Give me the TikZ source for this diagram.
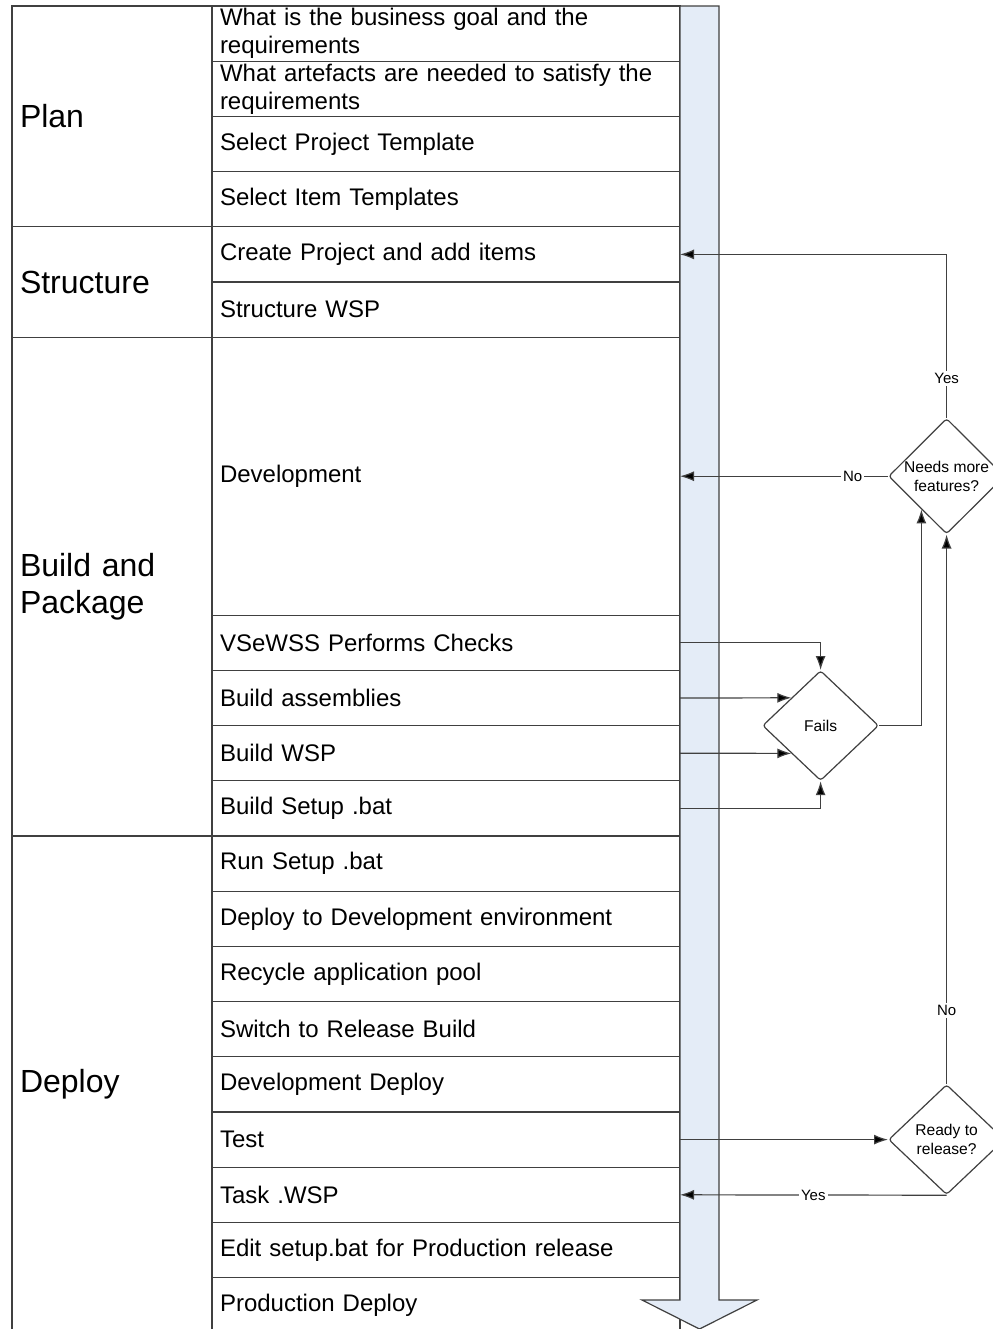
\documentclass[tikz,border=0pt]{standalone}
\usepackage{fontspec}
\setmainfont{Liberation Sans}
\usetikzlibrary{positioning,arrows.meta,calc}
\usetikzlibrary{shapes.geometric}
\definecolor{barblue}{HTML}{E4ECF7}
\definecolor{linegray}{HTML}{404040}
\tikzset{
steprow/.style={
  rectangle, draw=linegray, line width=0.6pt,
  minimum width=234pt, minimum height=27.6pt,
  text width=226pt, inner xsep=4pt, inner ysep=0.5pt,
  outer sep=0pt, align=left,
  font=\fontsize{12}{14}\selectfont
  },
phasebox/.style={
  rectangle, draw=linegray, line width=0.6pt, anchor=north east,
  minimum width=100pt, text width=92pt, inner xsep=4pt,
  outer sep=0pt, align=left,
  font=\fontsize{16}{18.5}\selectfont
  },
decision/.style={
  diamond, draw=linegray, fill=white, line width=0.6pt,
  minimum width=58pt, minimum height=55pt, inner sep=0pt,
  rounded corners=1.5pt, align=center,
  font=\fontsize{7.8}{9.5}\selectfont
  },
flow/.style={->, draw=linegray, line width=0.6pt},
flowlabel/.style={fill=white, inner sep=1pt, font=\fontsize{7.5}{9}\selectfont}
}

\begin{document}
\begin{tikzpicture}[x=0.5pt, y=-0.5pt, >={Latex[length=7pt,width=5pt,fill=black]}]
\useasboundingbox (0,0) rectangle (992,1329);

% steps
\node[steprow, anchor=north west] at (212,6) (st1)
  {What is the business goal and the\\requirements};
\node[steprow, below=0pt of st1] (st2)
  {What artefacts are needed to satisfy the\\requirements};
\node[steprow, below=0pt of st2] (st3) {Select Project Template};
\node[steprow, below=0pt of st3] (st4) {Select Item Templates};
\node[steprow, below=0pt of st4] (st5) {Create Project and add items};
\node[steprow, below=0pt of st5] (st6) {Structure WSP};
\node[steprow, below=0pt of st6, minimum height=139pt] (st7) {Development};
\node[steprow, below=0pt of st7] (st8) {VSeWSS Performs Checks};
\node[steprow, below=0pt of st8] (st9) {Build assemblies};
\node[steprow, below=0pt of st9] (st10) {Build WSP};
\node[steprow, below=0pt of st10] (st11) {Build Setup .bat};
\node[steprow, below=0pt of st11] (st12) {Run Setup .bat};
\node[steprow, below=0pt of st12] (st13) {Deploy to Development environment};
\node[steprow, below=0pt of st13] (st14) {Recycle application pool};
\node[steprow, below=0pt of st14] (st15) {Switch to Release Build};
\node[steprow, below=0pt of st15] (st16) {Development Deploy};
\node[steprow, below=0pt of st16] (st17) {Test};
\node[steprow, below=0pt of st17] (st18) {Task .WSP};
\node[steprow, below=0pt of st18] (st19) {Edit setup.bat for Production release};
\node[steprow, below=0pt of st19] (st20) {Production Deploy};

% phases
\node[phasebox, minimum height=110.4pt] at (st1.north west) (plan) {Plan};
\node[phasebox, minimum height=55.2pt] at (st5.north west) (struct) {Structure};
\node[phasebox, minimum height=249.4pt] at (st7.north west) (build)
  {Build and\\Package};
\node[phasebox, minimum height=248.4pt] at (st12.north west) (deploy) {Deploy};

% flow bar
\draw[draw=linegray, line width=0.6pt, fill=barblue]
  (680,6) -- (719,6) -- (719,1300) -- (757,1300) -- (699.5,1329)
  -- (642,1300) -- (680,1300) -- cycle;

% decisions
\node[decision, right=104pt of st7] (needs) {Needs more\\features?};
\node[decision, right=41pt of st9.south east] (fails) {Fails};
\node[decision, right=104pt of st17] (ready) {Ready to\\release?};

\coordinate (needsin) at ($(needs.west)!0.57!(needs.south)$);

% checks into fails
\draw[flow] (st8.east) -| (fails.north);
\draw[flow] (st9.east) -- ($(fails.west)!0.5!(fails.north)$);
\draw[flow] (st10.east) -- ($(fails.west)!0.5!(fails.south)$);
\draw[flow] (st11.east) -| (fails.south);
\draw[flow] (fails.east) -| (needsin);

% loops back
\draw[flow] (needs.north) |- node[flowlabel, pos=0.12]{Yes} (st5.east);
\draw[flow] (needs.west) -- node[flowlabel, pos=0.17]{No} (st7.east);
\draw[flow] (st17.east) -- (ready.west);
\draw[flow] (ready.north) -- node[flowlabel, pos=0.134]{No} (needs.south);
\draw[flow] (ready.south) -- node[flowlabel, pos=0.5]{Yes} (st18.east);

\end{tikzpicture}
\end{document}
